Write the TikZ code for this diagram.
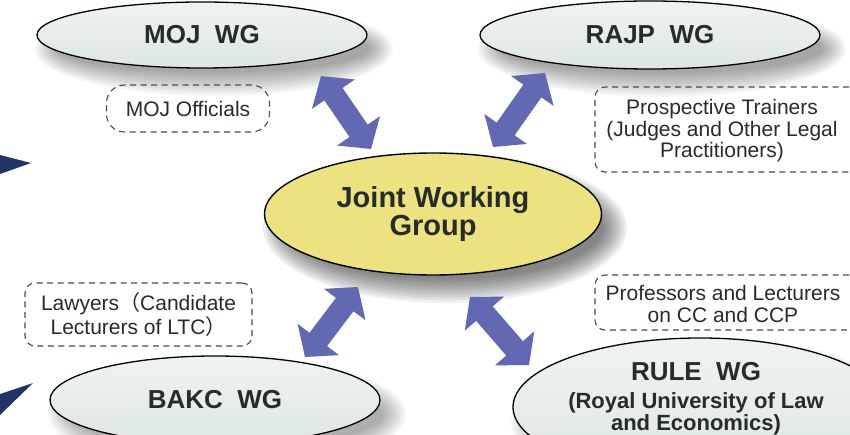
\documentclass[tikz,border=0pt]{standalone}
\usepackage{fontspec}
\setmainfont{Liberation Sans}
\newfontfamily\cjkfont{Noto Sans CJK SC}
\usetikzlibrary{shapes.geometric,calc}
\definecolor{wgtop}{RGB}{238,243,242}
\definecolor{wgbot}{RGB}{221,230,229}
\definecolor{jfill}{RGB}{236,226,128}
\definecolor{txt}{RGB}{38,44,44}
\definecolor{arrowcol}{RGB}{98,104,178}
\definecolor{navy}{RGB}{32,52,104}
\definecolor{dashcol}{RGB}{75,75,75}
\newcommand\softshadow[5]{%
  \foreach \k in {0,...,9}{%
    \fill[black,opacity=#5] ({#1+12},{#2+14}) ellipse ({#3+14-2.6*\k} and {#4+14-2.6*\k});}}
\newcommand\fatarr[2]{%
  \fill[arrowcol] (#1)
    -- ($($(#1)!22pt!(#2)$)!26pt!90:(#2)$)
    -- ($($(#1)!22pt!(#2)$)!11pt!90:(#2)$)
    -- ($($(#2)!22pt!(#1)$)!11pt!-90:(#1)$)
    -- ($($(#2)!22pt!(#1)$)!26pt!-90:(#1)$)
    -- (#2)
    -- ($($(#2)!22pt!(#1)$)!26pt!90:(#1)$)
    -- ($($(#2)!22pt!(#1)$)!11pt!90:(#1)$)
    -- ($($(#1)!22pt!(#2)$)!11pt!-90:(#2)$)
    -- ($($(#1)!22pt!(#2)$)!26pt!-90:(#2)$)
    -- cycle;}
\begin{document}
\begin{tikzpicture}[x=1pt,y=-1pt,
  wg/.style={ellipse, draw=black, line width=1.3pt, top color=wgtop, bottom color=wgbot,
    inner sep=0pt, text=txt, align=center, font=\bfseries\fontsize{26}{30}\selectfont},
  joint/.style={ellipse, draw=black, line width=1.4pt, fill=jfill, inner sep=0pt,
    text=txt, align=center, font=\bfseries\fontsize{29}{25}\selectfont},
  labelbox/.style={draw=dashcol, line width=1.1pt, dash pattern=on 6pt off 4.5pt,
    rounded corners=10pt, inner sep=0pt, text=txt, align=center,
    font=\fontsize{21}{22}\selectfont},
  labeltext/.style={inner sep=0pt, text=txt, align=center, font=\fontsize{21}{21.5}\selectfont}
]
\useasboundingbox (0,0) rectangle (850,435);
\clip (0,0) rectangle (850,435);
\fill[white] (0,0) rectangle (850,435);

% shadows
\softshadow{202}{35}{165}{33}{0.04}
\softshadow{650}{35}{170}{34}{0.04}
\softshadow{433}{214}{168}{61}{0.06}
\softshadow{215}{400}{165}{44}{0.035}
\softshadow{700}{407}{187}{69}{0.035}

% left navy arrowheads
\fill[navy] (0,155) -- (31,163) -- (0,174) -- cycle;
\fill[navy] (0,394) -- (33,383) -- (0,415) -- cycle;

% ellipses
\node[wg, minimum width=330, minimum height=66] (moj) at (202,35) {MOJ\ \ WG};
\node[wg, minimum width=340, minimum height=68] (rajp) at (650,35) {RAJP\ \ WG};
\node[joint, minimum width=337, minimum height=122] (jwg) at (433,214) {Joint Working\\Group};
\node[wg, minimum width=330, minimum height=88] (bakc) at (215,400) {BAKC\ \ WG};
\node[wg, minimum width=374, minimum height=138] (rule) at (700,407) {};
\node[inner sep=0pt, text=txt, align=center, font=\bfseries\fontsize{22}{22}\selectfont]
  (ruletext) at (696,399) {{\fontsize{26}{28}\selectfont RULE\ \ WG}\\[6pt](Royal University of Law\\and Economics)};

% dashed label boxes
\node[labelbox, rounded corners=18pt, minimum width=163, minimum height=47] (mojoff) at (188,108.5) {MOJ Officials};
\node[labelbox, minimum width=227, minimum height=63] (lawyers) at (138.5,314.5)
  {Lawyers{\cjkfont （}Candidate\\Lecturers of LTC{\cjkfont ）}};
\node[labelbox, minimum width=285, minimum height=85] (ptbox) at (737.5,129.5) {};
\node[labeltext] (pttext) at (722,131) {Prospective Trainers\\(Judges and Other Legal\\Practitioners)};
\node[labelbox, minimum width=285, minimum height=55] (profbox) at (737.5,302.5) {};
\node[labeltext] (proftext) at (723,304) {Professors and Lecturers\\on CC and CCP};

% double arrows
\coordinate (a1s) at (321,76);  \coordinate (a1e) at (371,149);
\coordinate (a2s) at (545,73);  \coordinate (a2e) at (493,147);
\coordinate (a3s) at (358,287); \coordinate (a3e) at (305,357);
\coordinate (a4s) at (470,297); \coordinate (a4e) at (529,365);
\fatarr{a1s}{a1e}
\fatarr{a2s}{a2e}
\fatarr{a3s}{a3e}
\fatarr{a4s}{a4e}
\end{tikzpicture}
\end{document}
